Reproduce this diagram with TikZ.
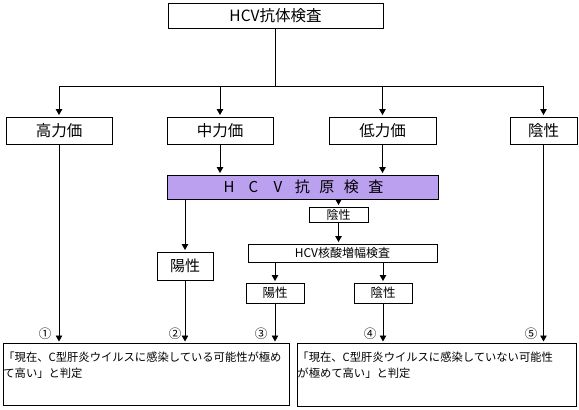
\documentclass[tikz,border=0pt]{standalone}
\usepackage{fontspec}
\setmainfont{Noto Sans CJK JP}
\usetikzlibrary{arrows.meta}
\definecolor{lav}{RGB}{187,160,240}
\newcommand{\cell}[1]{\makebox[24.5pt]{#1}}
\begin{document}
\begin{tikzpicture}[x=1pt,y=-1pt, line width=0.9pt,
  bx/.style={draw, inner sep=0pt, font=\fontsize{15.5}{18}\selectfont},
  sbx/.style={draw, inner sep=0pt, font=\fontsize{12.5}{14}\selectfont},
  tbx/.style={draw, inner sep=0pt, anchor=north west, font=\fontsize{11.3}{16}\selectfont},
  arr/.style={-{Triangle[length=6pt,width=6.5pt]}, shorten >=1.5pt},
  num/.style={inner sep=0pt, font=\fontsize{12.5}{13}\selectfont}]
\useasboundingbox (0,0) rectangle (579,410);

% boxes
\node[bx, minimum width=215, minimum height=25] (top) at (275.5,15.5) {HCV抗体検査};
\node[bx, minimum width=106, minimum height=27] (koryoku) at (59,130.5) {高力価};
\node[bx, minimum width=106, minimum height=27] (churyoku) at (220,130.5) {中力価};
\node[bx, minimum width=107, minimum height=27] (teiryoku) at (382.5,130.5) {低力価};
\node[bx, minimum width=67, minimum height=27] (insei1) at (543.5,130.5) {陰性};
\node[bx, fill=lav, minimum width=271, minimum height=24, font=\fontsize{15}{18}\selectfont] (kogen) at (302.5,187)
  {\cell{H}\cell{C}\cell{V}\cell{抗}\cell{原}\cell{検}\cell{査}};
\node[sbx, minimum width=59, minimum height=15, font=\fontsize{12}{13}\selectfont] (insei2) at (338.5,214.5) {陰性};
\node[sbx, minimum width=189, minimum height=18, font=\fontsize{12}{13}\selectfont] (kakusan) at (342.5,253) {HCV核酸増幅検査};
\node[bx, minimum width=56, minimum height=28, font=\fontsize{15}{18}\selectfont] (yosei1) at (185,266) {陽性};
\node[sbx, minimum width=58, minimum height=20] (yosei2) at (275,293) {陽性};
\node[sbx, minimum width=58, minimum height=20] (insei3) at (383,293) {陰性};
\node[tbx] (left) at (3,343) {\parbox[c][62pt][t]{286pt}{\vspace*{8pt}「現在、C型肝炎ウイルスに感染している可能性が極め\\て高い」と判定}};
\node[tbx] (right) at (297,343) {\parbox[c][63pt][t]{279pt}{\vspace*{8pt}「現在、C型肝炎ウイルスに感染していない可能性\\が極めて高い」と判定}};

% circled numbers
\node[num] (n1) at (45,334) {①};
\node[num] (n2) at (175,334) {②};
\node[num] (n3) at (261,334) {③};
\node[num] (n4) at (370,334) {④};
\node[num] (n5) at (531,334) {⑤};

% connectors
\coordinate (bar) at (0,86);
\draw (top.south) -- (top.south |- bar);
\draw (koryoku.north |- bar) -- (insei1.north |- bar);
\foreach \n in {koryoku,churyoku,teiryoku,insei1}
  \draw[arr] (\n.north |- bar) -- (\n.north);
\draw[arr] (koryoku.south) -- (left.north -| koryoku.south);
\draw[arr] (churyoku.south) -- (kogen.north -| churyoku.south);
\draw[arr] (teiryoku.south) -- (kogen.north -| teiryoku.south);
\draw[arr] (insei1.south) -- (right.north -| insei1.south);
\draw[arr] (kogen.south -| yosei1.north) -- (yosei1.north);
\draw[arr] (kogen.south -| insei2.north) -- (insei2.north);
\draw[arr] (insei2.south) -- (kakusan.north -| insei2.south);
\draw[arr] (kakusan.south -| yosei2.north) -- (yosei2.north);
\draw[arr] (kakusan.south -| insei3.north) -- (insei3.north);
\draw[arr] (yosei1.south) -- (left.north -| yosei1.south);
\draw[arr] (yosei2.south) -- (left.north -| yosei2.south);
\draw[arr] (insei3.south) -- (right.north -| insei3.south);
\end{tikzpicture}
\end{document}
